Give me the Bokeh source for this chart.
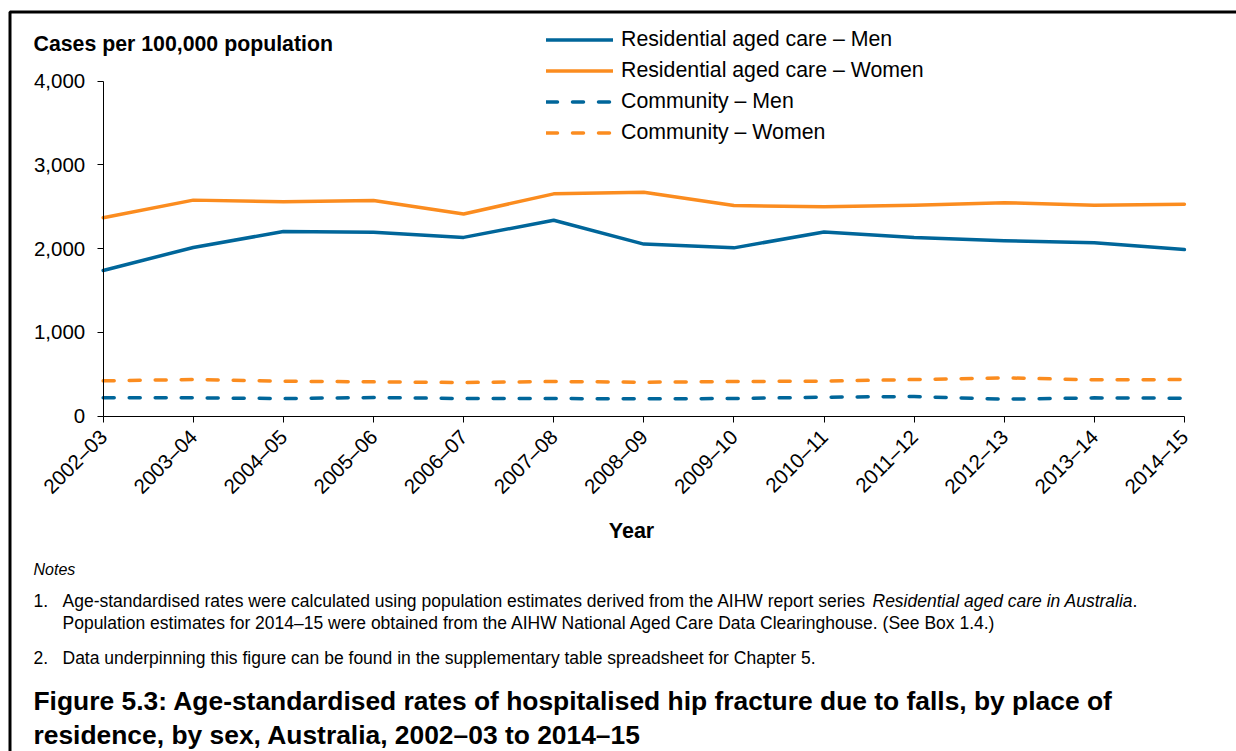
import math
from bokeh.plotting import figure
from bokeh.models import (Range1d, FixedTicker, NumeralTickFormatter, Label, Legend,
                          LegendItem, PolyAnnotation)
from bokeh.embed import file_html
from bokeh.resources import INLINE

# ---------------- data ----------------
years = ["2002–03", "2003–04", "2004–05", "2005–06", "2006–07", "2007–08", "2008–09",
         "2009–10", "2010–11", "2011–12", "2012–13", "2013–14", "2014–15"]
res_men = [1740, 2015, 2205, 2195, 2135, 2340, 2055, 2010, 2200, 2135, 2095, 2070, 1990]
res_women = [2370, 2580, 2560, 2575, 2415, 2655, 2675, 2515, 2500, 2520, 2550, 2520, 2530]
com_men = [219, 219, 211, 223, 211, 211, 207, 211, 227, 235, 203, 219, 215]
com_women = [422, 438, 418, 410, 402, 414, 406, 414, 418, 438, 458, 434, 438]
y_ticks = [0, 1000, 2000, 3000, 4000]
series_names = ["Residential aged care – Men", "Residential aged care – Women",
                "Community – Men", "Community – Women"]

BLUE = "#00669a"
ORANGE = "#fb8c1f"
FONT = "Liberation Sans"

# ---------------- geometry ----------------
W, H = 1236, 751
X0_PX, XSTEP = 102.7, 90.1      # pixel of first category, pixels per category
Y0_PX, YSCALE = 415.7, 0.08375  # pixel of value 0, pixels per unit


def dx(px):  # pixel -> data x
    return (px - X0_PX) / XSTEP


def dy(py):  # pixel -> data y
    return (Y0_PX - py) / YSCALE


p = figure(width=W, height=H, output_backend="svg", toolbar_location=None,
           x_range=Range1d(dx(0), dx(W)), y_range=Range1d(dy(H), dy(0)),
           min_border_left=0, min_border_right=0, min_border_top=0,
           min_border_bottom=0)
p.xgrid.visible = False
p.ygrid.visible = False
p.outline_line_color = None
p.background_fill_color = "white"
p.border_fill_color = "white"

xs = list(range(len(years)))
r1 = p.line(xs, res_men, line_color=BLUE, line_width=3.5, line_cap="round", line_join="round")
r2 = p.line(xs, res_women, line_color=ORANGE, line_width=3.5, line_cap="round", line_join="round")
r3 = p.line(xs, com_men, line_color=BLUE, line_width=3.5, line_dash="11 15", line_cap="round")
r4 = p.line(xs, com_women, line_color=ORANGE, line_width=3.5, line_dash="11 15", line_cap="round")

# axes (placed inside the full-canvas frame at x=0 / y=0)
yax = p.yaxis[0]
yax.fixed_location = 0
yax.bounds = (0, 4000)
yax.ticker = FixedTicker(ticks=y_ticks)
yax.formatter = NumeralTickFormatter(format="0,0")
yax.major_tick_out = 6
yax.major_tick_in = 0
yax.minor_tick_out = 0
yax.minor_tick_in = 0
yax.axis_line_color = "black"
yax.major_tick_line_color = "black"
yax.major_label_text_font = FONT
yax.major_label_text_font_size = "20.5px"
yax.major_label_text_color = "black"
yax.major_label_standoff = 12

xax = p.xaxis[0]
xax.fixed_location = 0
xax.bounds = (0, len(years) - 1)
xax.ticker = FixedTicker(ticks=xs)
xax.major_label_overrides = {i: y for i, y in enumerate(years)}
xax.major_label_orientation = math.pi / 4
xax.major_tick_out = 6
xax.major_tick_in = 0
xax.minor_tick_out = 0
xax.minor_tick_in = 0
xax.axis_line_color = "black"
xax.major_tick_line_color = "black"
xax.major_label_text_font = FONT
xax.major_label_text_font_size = "20.5px"
xax.major_label_text_color = "black"
xax.major_label_standoff = 11

# legend
legend = Legend(items=[LegendItem(label=n, renderers=[r]) for n, r in
                       zip(series_names, [r1, r2, r3, r4])],
                location=(546, H - 147.5), orientation="vertical",
                glyph_width=67, glyph_height=31, label_height=31, spacing=0,
                padding=0, margin=0, label_standoff=8,
                border_line_alpha=0, background_fill_alpha=0,
                label_text_font=FONT, label_text_font_size="21.3px",
                label_text_color="black", label_text_baseline="middle")
p.add_layout(legend)


def lab(text, px, py, size, style="normal", align="left"):
    p.add_layout(Label(x=dx(px), y=dy(py), text=text, text_font=FONT,
                       text_font_size=size, text_font_style=style,
                       text_align=align, text_baseline="middle",
                       text_color="black"))


NOTE = "17.5px"
lab("Cases per 100,000 population", 33, 43, "21.3px", "bold")
lab("Year", 631, 530, "21.5px", "bold", "center")
lab("Notes", 33, 569, "16px", "italic")
lab("1.", 33, 600, NOTE)
lab("Age-standardised rates were calculated using population estimates derived from the "
    "AIHW report series", 62, 600, NOTE)
lab("Residential aged care in Australia", 872, 600, NOTE, "italic")
lab(".", 1132, 600, NOTE)
lab("Population estimates for 2014–15 were obtained from the AIHW National Aged Care "
    "Data Clearinghouse. (See Box 1.4.)", 62, 622, NOTE)
lab("2.", 33, 657, NOTE)
lab("Data underpinning this figure can be found in the supplementary table spreadsheet "
    "for Chapter 5.", 62, 657, NOTE)
lab("Figure 5.3: Age-standardised rates of hospitalised hip fracture due to falls, by place of",
    33, 700, "26.4px", "bold")
lab("residence, by sex, Australia, 2002–03 to 2014–15", 33, 734, "26.4px", "bold")

# outer box (top and left edges visible)
p.add_layout(PolyAnnotation(xs=[dx(9.5), dx(9.5), dx(W + 60), dx(W + 60)],
                            ys=[dy(H + 60), dy(11.5), dy(11.5), dy(H + 60)],
                            fill_alpha=0, line_color="black", line_alpha=1, line_width=3))

open("out.html", "w").write(file_html(p, INLINE))
